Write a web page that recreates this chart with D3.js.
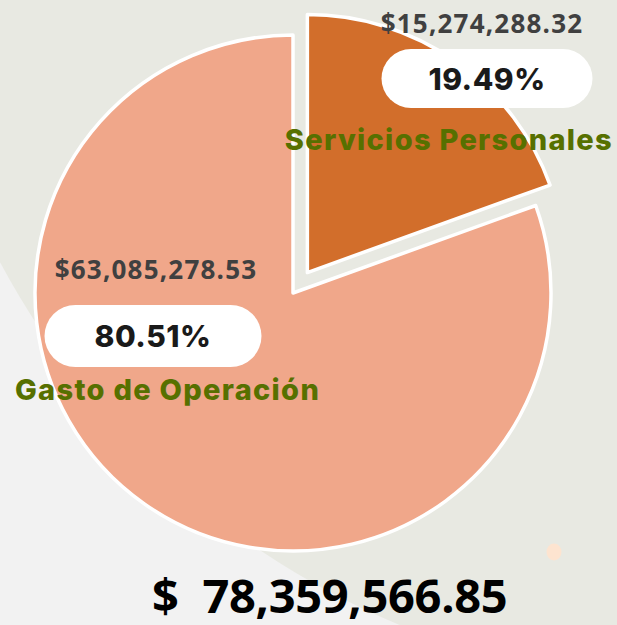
<!DOCTYPE html>
<html>
<head>
<meta charset="utf-8">
<script src="https://cdn.jsdelivr.net/npm/d3@7"></script>
<style>
  body { margin: 0; background: #f2f2f2; }
  svg { display: block; }
</style>
</head>
<body>
<svg></svg>
<script>
// datos
var categorias = ["Servicios Personales", "Gasto de Operación"];
var montos = [15274288.32, 63085278.53];
var montosTexto = ["$15,274,288.32", "$63,085,278.53"];
var porcentajes = ["19.49%", "80.51%"];
var totalTexto = "$  78,359,566.85";

var width = 617, height = 625;
var cx = 293, cy = 293, radio = 258;

var colores = d3.scaleOrdinal()
    .domain(categorias)
    .range(["#d26e2b", "#f0a78a"]);

var svg = d3.select("svg")
    .attr("width", width)
    .attr("height", height);

// fondo: circulo grande verdoso sobre gris claro
svg.append("rect")
    .attr("width", width).attr("height", height)
    .attr("fill", "#f2f2f2");
svg.append("circle")
    .attr("cx", 706).attr("cy", -114).attr("r", 800)
    .attr("fill", "#e8e9e2");
svg.append("ellipse")
    .attr("cx", 554).attr("cy", 552).attr("rx", 7.5).attr("ry", 8.5)
    .attr("fill", "#fde4d0");

var datos = categorias.map(function(c, i) {
  return { cat: c, valor: montos[i], texto: montosTexto[i], pct: porcentajes[i] };
});

var pie = d3.pie()
    .sort(null)
    .value(function(d) { return d.valor; });

var arc = d3.arc()
    .innerRadius(0)
    .outerRadius(radio);

var g = svg.append("g")
    .attr("transform", "translate(" + cx + "," + cy + ")");

// la porcion pequeña va separada del centro
var separacion = 25;
g.selectAll("path")
    .data(pie(datos))
    .enter().append("path")
    .attr("d", arc)
    .attr("fill", function(d) { return colores(d.data.cat); })
    .attr("stroke", "#fff")
    .attr("stroke-width", 3.5)
    .attr("stroke-linejoin", "round")
    .attr("transform", function(d, i) {
      if (i != 0) return null;
      var a = (d.startAngle + d.endAngle) / 2;
      return "translate(" + (Math.sin(a) * separacion) + "," + (-Math.cos(a) * separacion) + ")";
    });

// etiquetas
var posiciones = [
  { x: 482, xPill: 487, yMonto: 33, yPill: 49, yCat: 150, pillW: 211, pillH: 59 },
  { x: 156, xPill: 153, yMonto: 279, yPill: 305, yCat: 400, pillW: 217, pillH: 62 }
];

var etiquetas = svg.selectAll(".etiqueta")
    .data(datos)
    .enter().append("g")
    .attr("class", "etiqueta");

etiquetas.append("text")
    .attr("x", function(d, i) { return posiciones[i].x; })
    .attr("y", function(d, i) { return posiciones[i].yMonto; })
    .attr("text-anchor", "middle")
    .attr("font-family", "Open Sans")
    .attr("font-weight", "bold")
    .attr("font-size", 26)
    .attr("letter-spacing", 1.2)
    .attr("fill", "#404040")
    .text(function(d) { return d.texto; });

etiquetas.append("rect")
    .attr("x", function(d, i) { return posiciones[i].xPill - posiciones[i].pillW / 2; })
    .attr("y", function(d, i) { return posiciones[i].yPill; })
    .attr("width", function(d, i) { return posiciones[i].pillW; })
    .attr("height", function(d, i) { return posiciones[i].pillH; })
    .attr("rx", function(d, i) { return posiciones[i].pillH / 2; })
    .attr("fill", "#fff");

etiquetas.append("text")
    .attr("x", function(d, i) { return posiciones[i].xPill; })
    .attr("y", function(d, i) { return posiciones[i].yPill + posiciones[i].pillH / 2 + 11; })
    .attr("text-anchor", "middle")
    .attr("font-family", "Inter")
    .attr("font-weight", 800)
    .attr("font-size", 30)
    .attr("letter-spacing", 0.5)
    .attr("fill", "#1a1a1a")
    .text(function(d) { return d.pct; });

etiquetas.append("text")
    .attr("x", function(d, i) { return i == 0 ? 613 : 15; })
    .attr("y", function(d, i) { return posiciones[i].yCat; })
    .attr("text-anchor", function(d, i) { return i == 0 ? "end" : "start"; })
    .attr("font-family", "Inter")
    .attr("font-weight", 800)
    .attr("font-size", 29)
    .attr("letter-spacing", 1.3)
    .attr("fill", "#577000")
    .text(function(d) { return d.cat; });

// total
svg.append("text")
    .attr("x", 152)
    .attr("y", 613)
    .attr("font-family", "Open Sans")
    .attr("font-weight", "bold")
    .attr("font-size", 47)
    .attr("letter-spacing", -0.3)
    .attr("fill", "#000")
    .attr("xml:space", "preserve")
    .style("white-space", "pre")
    .text(totalTexto);
</script>
</body>
</html>
